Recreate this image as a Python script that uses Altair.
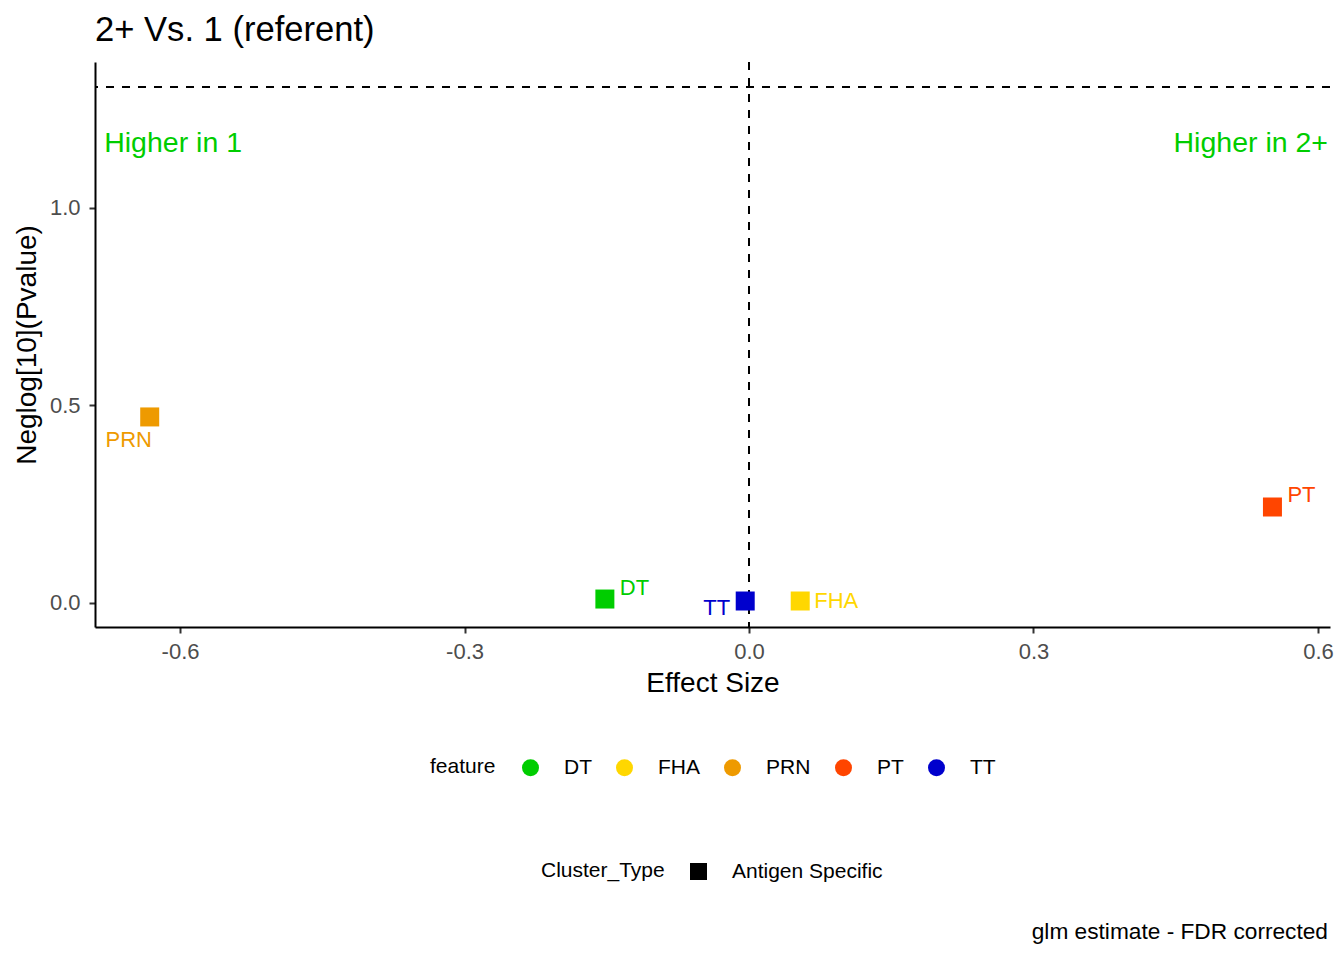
import altair as alt
import pandas as pd

# ---- data ----
features = ["DT", "FHA", "PRN", "PT", "TT"]
colors = ["#00CD00", "#FFD700", "#EE9A00", "#FF4500", "#0000CD"]
effect = [-0.152, 0.054, -0.632, 0.552, -0.004]
neglogp = [0.010, 0.005, 0.471, 0.243, 0.005]
cluster_type = ["Antigen Specific"] * 5

x_ticks = [-0.6, -0.3, 0.0, 0.3, 0.6]
y_ticks = [0.0, 0.5, 1.0]
x_domain = [-0.6897, 0.6127]
y_domain = [-0.0608, 1.3696]

vline = [0.0]
hline = [1.306]

ann_left_text = ["Higher in 1"]
ann_left_x = [-0.680]
ann_right_text = ["Higher in 2+"]
ann_right_x = [0.6106]
ann_y = [1.165]

title_text = "2+ Vs. 1 (referent)"
caption_text = ["glm estimate - FDR corrected"]

FONT = "Liberation Sans"
W, H = 1235, 565

df = pd.DataFrame({"feature": features, "effect": effect, "neglogp": neglogp,
                   "Cluster_Type": cluster_type})

xs = alt.Scale(domain=x_domain, nice=False, zero=False)
ys = alt.Scale(domain=y_domain, nice=False, zero=False)

x_enc = alt.X("effect:Q", scale=xs, title="Effect Size",
              axis=alt.Axis(values=x_ticks, labelExpr="replace(format(datum.value, '.1f'), '\u2212', '-')",
                            titlePadding=7, labelPadding=8))
y_enc = alt.Y("neglogp:Q", scale=ys, title="Neglog[10](Pvalue)",
              axis=alt.Axis(values=y_ticks, format=".1f", titlePadding=8, labelPadding=9))

vrule = alt.Chart(pd.DataFrame({"v": vline})).mark_rule(
    color="black", strokeWidth=2, strokeDash=[8, 8]
).encode(x=alt.X("v:Q", scale=xs))

hrule = alt.Chart(pd.DataFrame({"h": hline})).mark_rule(
    color="black", strokeWidth=2, strokeDash=[8, 8]
).encode(y=alt.Y("h:Q", scale=ys))

points = alt.Chart(df).mark_point(filled=True, opacity=1, size=361, strokeWidth=0).encode(
    x=x_enc,
    y=y_enc,
    color=alt.Color("feature:N", scale=alt.Scale(domain=features, range=colors),
                    legend=alt.Legend(orient="none", legendX=335, legendY=695,
                                      direction="horizontal", titleOrient="left",
                                      symbolType="circle", symbolSize=289,
                                      symbolStrokeWidth=0, labelOffset=23,
                                      columnPadding=22, titlePadding=24,
                                      title="feature")),
    shape=alt.Shape("Cluster_Type:N",
                    scale=alt.Scale(domain=["Antigen Specific"], range=["square"]),
                    legend=alt.Legend(orient="none", legendX=446, legendY=799,
                                      direction="horizontal", titleOrient="left",
                                      symbolSize=289, symbolFillColor="black",
                                      symbolStrokeColor="black", symbolStrokeWidth=0,
                                      labelOffset=23, titlePadding=23,
                                      title="Cluster_Type")),
)

label_style = {
    "DT": dict(align="left", dx=15, dy=-11),
    "FHA": dict(align="left", dx=14, dy=0),
    "PRN": dict(align="center", dx=-21, dy=23),
    "PT": dict(align="left", dx=15, dy=-12),
    "TT": dict(align="right", dx=-15, dy=7),
}
label_layers = []
for f, c in zip(features, colors):
    label_layers.append(
        alt.Chart(df).transform_filter(alt.datum.feature == f).mark_text(
            fontSize=22, baseline="middle", font=FONT, color=c, **label_style[f]
        ).encode(x=alt.X("effect:Q", scale=xs), y=alt.Y("neglogp:Q", scale=ys),
                 text="feature:N")
    )

ann_left = alt.Chart(pd.DataFrame({"t": ann_left_text, "x": ann_left_x, "y": ann_y})).mark_text(
    align="left", baseline="middle", fontSize=28.5, font=FONT, color="#00CD00"
).encode(x=alt.X("x:Q", scale=xs), y=alt.Y("y:Q", scale=ys), text="t:N")

ann_right = alt.Chart(pd.DataFrame({"t": ann_right_text, "x": ann_right_x, "y": ann_y})).mark_text(
    align="right", baseline="middle", fontSize=28.5, font=FONT, color="#00CD00"
).encode(x=alt.X("x:Q", scale=xs), y=alt.Y("y:Q", scale=ys), text="t:N")

caption = alt.Chart(pd.DataFrame({"t": caption_text})).mark_text(
    align="right", baseline="alphabetic", fontSize=22.7, font=FONT, color="black"
).encode(x=alt.value(1233), y=alt.value(877), text="t:N")

chart = alt.layer(
    vrule, hrule, points, *label_layers, ann_left, ann_right, caption
).properties(
    width=W, height=H,
    title=alt.TitleParams(title_text, anchor="start", fontSize=34.6, fontWeight="normal",
                          font=FONT, color="black", offset=12, frame="group"),
    autosize=alt.AutoSizeParams(type="none"),
    padding={"left": 87, "top": 54, "right": 6, "bottom": 320},
).configure(
    font=FONT,
).configure_view(
    stroke=None,
).configure_axis(
    grid=False,
    domainColor="black", domainWidth=2,
    tickColor="#333333", tickWidth=2, tickSize=6,
    labelColor="#4D4D4D", labelFontSize=22, labelFont=FONT,
    titleColor="black", titleFontSize=28, titleFontWeight="normal", titleFont=FONT,
).configure_legend(
    labelFontSize=21, titleFontSize=21, titleFontWeight="normal",
    labelFont=FONT, titleFont=FONT, labelColor="black", titleColor="black",
)

chart.save("out.html", embed_options={"renderer": "svg", "actions": False})
